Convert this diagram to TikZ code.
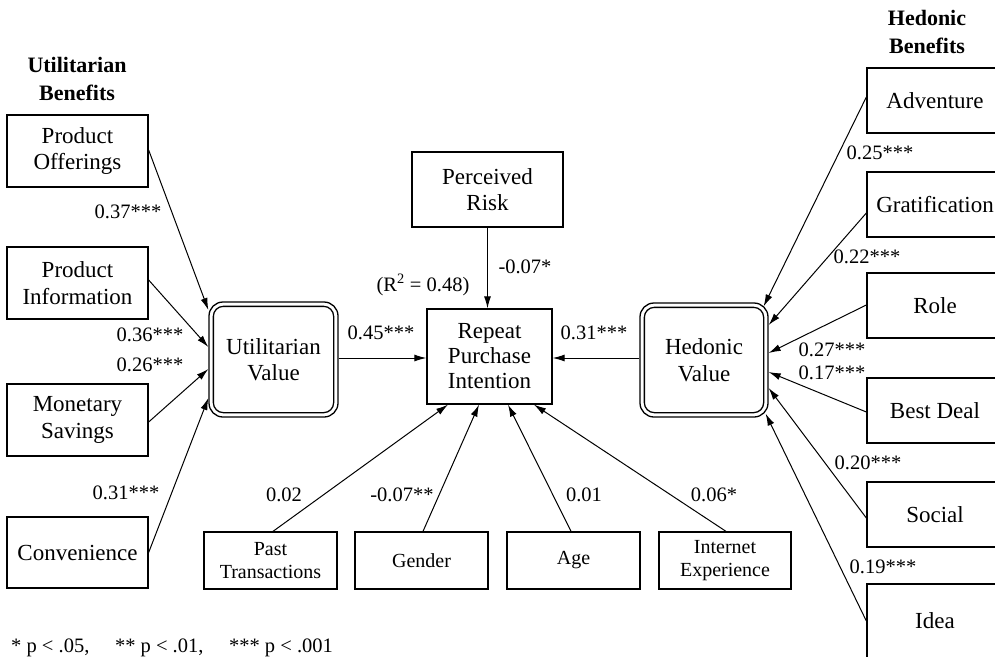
\documentclass[tikz,border=0pt]{standalone}
\usepackage{fontspec}
\setmainfont{Liberation Serif}
\usetikzlibrary{arrows.meta,calc}
\tikzset{
  box/.style={draw, line width=1.3pt, rectangle, align=center, inner sep=0pt, font=\fontsize{23}{26.5}\selectfont},
  sbox/.style={draw, line width=1.3pt, rectangle, align=center, inner sep=0pt, font=\fontsize{20}{23}\selectfont},
  vbox/.style={draw, line width=1.3pt, rectangle, rounded corners=14pt, align=center, inner sep=0pt, font=\fontsize{23}{26.5}\selectfont},
  arr/.style={line width=1pt, -{Latex[length=12pt,width=7pt]}},
  lab/.style={inner sep=0pt, font=\fontsize{20.5}{24}\selectfont},
  ttl/.style={align=center, inner sep=0pt, font=\fontsize{22}{28}\selectfont\bfseries}
}
\begin{document}
\begin{tikzpicture}[x=1pt,y=-1pt]
\useasboundingbox (0,0) rectangle (995,656);
\clip (0,0) rectangle (995,656);
% titles
\node[ttl] (tu) at (77,79) {Utilitarian\\Benefits};
\node[ttl] (th) at (927,32) {Hedonic\\Benefits};
% left boxes
\node[box, minimum width=141pt, minimum height=72pt] (po) at (77.5,151) {Product\\Offerings};
\node[box, minimum width=141pt, minimum height=72pt] (pi) at (77.5,283) {Product\\Information};
\node[box, minimum width=141pt, minimum height=72pt] (ms) at (77.5,420) {Monetary\\Savings};
\node[box, minimum width=141pt, minimum height=71pt] (cv) at (77.5,552.5) {Convenience};
% value boxes
\node[vbox, minimum width=129pt, minimum height=115pt] (uv) at (273.5,359.5) {Utilitarian\\Value};
\draw[line width=1.3pt, rounded corners=10pt] ([shift={(5pt,-5pt)}]uv.north west) rectangle ([shift={(-5pt,5pt)}]uv.south east);
\node[vbox, minimum width=128pt, minimum height=114pt] (hv) at (704,360) {Hedonic\\Value};
\draw[line width=1.3pt, rounded corners=10pt] ([shift={(5pt,-5pt)}]hv.north west) rectangle ([shift={(-5pt,5pt)}]hv.south east);
% center
\node[box, minimum width=151pt, minimum height=75pt] (pr) at (487.5,189.5) {Perceived\\Risk};
\node[box, minimum width=125pt, minimum height=95pt, font=\fontsize{23}{25}\selectfont] (rp) at (489.5,356.5) {Repeat\\Purchase\\Intention};
% bottom boxes
\node[sbox, minimum width=133pt, minimum height=57pt] (pt) at (270.5,560.5) {Past\\Transactions};
\node[sbox, minimum width=133pt, minimum height=57pt] (ge) at (421.5,560.5) {Gender};
\node[sbox, minimum width=133pt, minimum height=57pt] (ag) at (573.5,560.5) {Age};
\node[sbox, minimum width=132pt, minimum height=57pt] (ie) at (725,560.5) {Internet\\Experience};
% right boxes
\node[box, minimum width=136pt, minimum height=65pt] (ad) at (935,100.5) {Adventure};
\node[box, minimum width=136pt, minimum height=65pt] (gr) at (935,204.5) {Gratification};
\node[box, minimum width=136pt, minimum height=65pt] (ro) at (935,305.5) {Role};
\node[box, minimum width=136pt, minimum height=65pt] (bd) at (935,410.5) {Best Deal};
\node[box, minimum width=136pt, minimum height=65pt] (so) at (935,514.5) {Social};
\node[box, minimum width=136pt, minimum height=74pt] (id) at (935,621) {Idea};
% left arrows
\draw[arr] ([yshift=1pt]po.east) -- ([yshift=49.5pt]uv.west);
\draw[arr] ([yshift=3pt]pi.east) -- ([yshift=12.5pt]uv.west);
\draw[arr] ([yshift=-2pt]ms.east) -- ([yshift=-9.5pt]uv.west);
\draw[arr] (cv.east) -- ([yshift=-38.5pt]uv.west);
% center arrows
\draw[arr] ([yshift=1.5pt]uv.east) -- ([yshift=1.5pt]uv.east -| rp.west);
\draw[arr] ([yshift=2pt]hv.west) -- ([yshift=2pt]hv.west -| rp.east);
\draw[arr] (pr.south) -- (pr.south |- rp.north);
% bottom arrows
\draw[arr] ([xshift=2.5pt]pt.north) -- ([xshift=-41.5pt]rp.south);
\draw[arr] ([xshift=1.5pt]ge.north) -- ([xshift=-10.5pt]rp.south);
\draw[arr] ([xshift=-2.5pt]ag.north) -- ([xshift=18.5pt]rp.south);
\draw[arr] ([xshift=1pt]ie.north) -- ([xshift=44.5pt]rp.south);
% right arrows
\draw[arr] ([yshift=3.5pt]ad.west) -- ([shift={(-5pt,-4pt)}]hv.north east);
\draw[arr] ([yshift=-8.5pt]gr.west) -- ([yshift=35pt]hv.east);
\draw[arr] ([yshift=0.5pt]ro.west) -- ([yshift=7pt]hv.east);
\draw[arr] ([yshift=-1.5pt]bd.west) -- ([yshift=-12pt]hv.east);
\draw[arr] ([yshift=-3.5pt]so.west) -- ([yshift=-28pt]hv.east);
\draw[arr] (id.west) -- ([shift={(-3pt,4pt)}]hv.south east);
% labels
\node[lab] (l1) at (128,212) {0.37***};
\node[lab] (l2) at (150,335) {0.36***};
\node[lab] (l3) at (150,365) {0.26***};
\node[lab] (l4) at (126,493) {0.31***};
\node[lab] (l5) at (381,333) {0.45***};
\node[lab] (l6) at (594,333) {0.31***};
\node[lab] (l7) at (525,267) {-0.07*};
\node[lab] (l8) at (423,285) {(R\textsuperscript{2} = 0.48)};
\node[lab] (l9) at (284,495) {0.02};
\node[lab] (l10) at (402,495) {-0.07**};
\node[lab] (l11) at (584,495) {0.01};
\node[lab] (l12) at (714,495) {0.06*};
\node[lab] (r1) at (880,153) {0.25***};
\node[lab] (r2) at (867,257) {0.22***};
\node[lab] (r3) at (832,350) {0.27***};
\node[lab] (r4) at (832,373) {0.17***};
\node[lab] (r5) at (868,463) {0.20***};
\node[lab] (r6) at (883,567) {0.19***};
% footnote
\node[lab, anchor=west] (fn) at (11,648) {* p {\textless} .05,\quad\ ** p {\textless} .01,\quad\ *** p {\textless} .001};
\end{tikzpicture}
\end{document}
